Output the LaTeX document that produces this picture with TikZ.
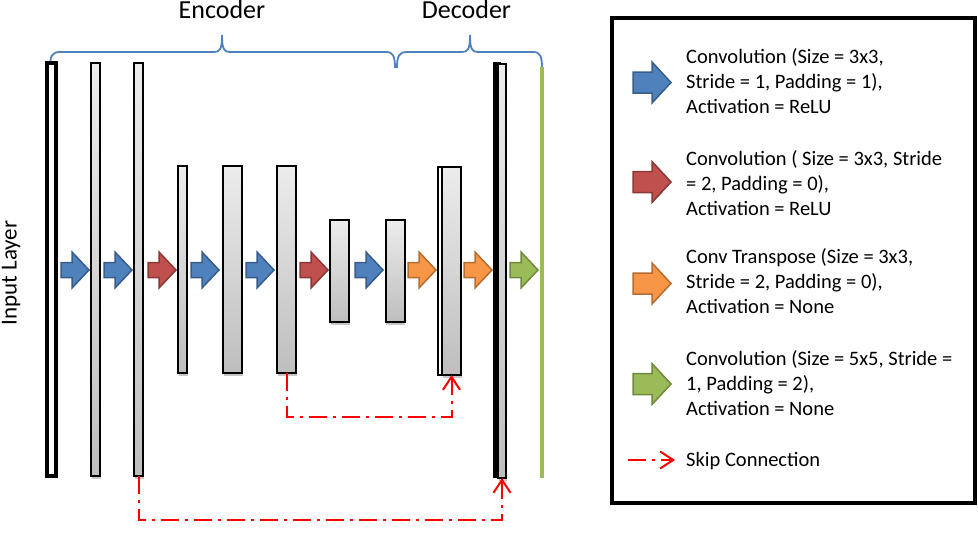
\documentclass[tikz,border=0pt]{standalone}
\usepackage{fontspec}
\setmainfont{Carlito}
\usetikzlibrary{arrows.meta,shadows}
\definecolor{bluefill}{HTML}{4F81BD}
\definecolor{bluedraw}{HTML}{385D8A}
\definecolor{redfill}{HTML}{C0504D}
\definecolor{reddraw}{HTML}{8C3836}
\definecolor{orafill}{HTML}{F79646}
\definecolor{oradraw}{HTML}{B66D31}
\definecolor{grefill}{HTML}{9BBB59}
\definecolor{gredraw}{HTML}{71893F}
\definecolor{bartop}{RGB}{236,236,236}
\definecolor{barbot}{RGB}{190,190,190}
\definecolor{skipred}{HTML}{FF0000}
\tikzset{
  pics/smallarr/.style={code={\filldraw (0,-7.5) -- (11,-7.5) -- (11,-18) -- (28,0) -- (11,18) -- (11,7.5) -- (0,7.5) -- cycle;}},
  pics/bigarr/.style={code={\filldraw (0,-10.5) -- (19,-10.5) -- (19,-20.5) -- (38,0) -- (19,20.5) -- (19,10.5) -- (0,10.5) -- cycle;}},
  convA/.style={fill=bluefill, draw=bluedraw, line width=1.5pt, line join=miter},
  convB/.style={fill=redfill, draw=reddraw, line width=1.5pt, line join=miter},
  convT/.style={fill=orafill, draw=oradraw, line width=1.5pt, line join=miter},
  convC/.style={fill=grefill, draw=gredraw, line width=1.5pt, line join=miter},
  bar/.style={draw=black, line width=2pt, top color=bartop, bottom color=barbot, inner sep=0pt, outer sep=0pt,
    drop shadow={opacity=0.22, shadow xshift=0.5pt, shadow yshift=-3pt, fill=black}},
  backbar/.style={draw=black, line width=2pt, fill=white, inner sep=0pt, outer sep=0pt},
  blackbar/.style={draw=black, line width=2pt, fill=black, inner sep=0pt, outer sep=0pt},
  inputbar/.style={draw=black, line width=4pt, fill=white, inner sep=0pt, outer sep=0pt},
  skipline/.style={draw=skipred, line width=2pt, dash pattern=on 18pt off 6pt on 3pt off 6pt,
    -{Straight Barb[length=13pt,width=17pt]}},
  brace/.style={draw=bluefill, line width=1.8pt},
  legtext/.style={anchor=base west, align=left, inner sep=0pt, font=\fontsize{20.5}{25}\selectfont},
  title/.style={anchor=base, inner sep=0pt, font=\fontsize{26}{30}\selectfont},
}
\begin{document}
\begin{tikzpicture}[x=1pt,y=-1pt]
\useasboundingbox (0,0) rectangle (978,538);
% titles
\node[title] (enc) at (222,19) {Encoder};
\node[title] (dec) at (466.5,19) {Decoder};
\node[anchor=base, inner sep=0pt, rotate=90, font=\fontsize{23}{27}\selectfont] (inl) at (16.5,273) {Input Layer};
% braces
\draw[brace] (50,68) .. controls (50,56) and (52,52) .. (60,52) -- (214,52)
  .. controls (220,52) and (222,49) .. (222,35) .. controls (222,49) and (224,52) .. (230,52)
  -- (386,52) .. controls (393,52) and (395,56) .. (395,68);
\draw[brace] (397,68) .. controls (397,56) and (399,52) .. (407,52) -- (462,52)
  .. controls (468,52) and (470,49) .. (470,35) .. controls (470,49) and (472,52) .. (478,52)
  -- (533,52) .. controls (540,52) and (542,56) .. (542,68);
% layers
\node[inputbar, minimum width=9pt, minimum height=413pt] (in) at (51.5,269.5) {};
\node[bar, minimum width=9pt, minimum height=413pt] (b2) at (95.5,269.5) {};
\node[bar, minimum width=9pt, minimum height=413pt] (b3) at (138.5,269.5) {};
\node[bar, minimum width=9pt, minimum height=207pt] (b4) at (182.5,269.5) {};
\node[bar, minimum width=19pt, minimum height=207pt] (b5) at (232.5,269.5) {};
\node[bar, minimum width=19pt, minimum height=207pt] (b6) at (286.5,269.5) {};
\node[bar, minimum width=19pt, minimum height=102pt] (b7) at (339.5,271) {};
\node[bar, minimum width=19pt, minimum height=102pt] (b8) at (395,271) {};
\node[backbar, minimum width=19pt, minimum height=208pt] (b9b) at (447.5,271) {};
\node[bar, minimum width=19pt, minimum height=208pt] (b9) at (451.5,271) {};
\node[blackbar, minimum width=6pt, minimum height=414pt] (b10b) at (497,270) {};
\node[bar, minimum width=8pt, minimum height=414pt] (b10) at (502,271) {};
\draw[grefill, line width=3.5pt] (542,67) -- (542,478);
% operation arrows
\pic[convA] at (61,270) {smallarr};
\pic[convA] at (104,270) {smallarr};
\pic[convB] at (148,270) {smallarr};
\pic[convA] at (191,270) {smallarr};
\pic[convA] at (246,270) {smallarr};
\pic[convB] at (300,270) {smallarr};
\pic[convA] at (355,270) {smallarr};
\pic[convT] at (408,270) {smallarr};
\pic[convT] at (464,270) {smallarr};
\pic[convC] at (510,270) {smallarr};
% skip connections
\draw[skipline] (b6.south) -- ++(0,44) -| (b9.south);
\draw[skipline] (b3.south) -- ++(0,44) -| (b10.south);
% legend
\draw[line width=4pt] (612,18) rectangle (975,503);
\pic[convA] at (633,82.5) {bigarr};
\pic[convB] at (633,182) {bigarr};
\pic[convT] at (633,283.5) {bigarr};
\pic[convC] at (633,384) {bigarr};
\node[legtext] (t1) at (686,113.5) {Convolution (Size = 3x3,\\Stride = 1, Padding = 1),\\Activation = ReLU};
\node[legtext] (t2) at (686,215.5) {Convolution ( Size = 3x3, Stride\\= 2, Padding = 0),\\Activation = ReLU};
\node[legtext] (t3) at (686,313.5) {Conv Transpose (Size = 3x3,\\Stride = 2, Padding = 0),\\Activation = None};
\node[legtext] (t4) at (686,415.5) {Convolution (Size = 5x5, Stride =\\1, Padding = 2),\\Activation = None};
\coordinate (s1) at (628,460);
\coordinate (s2) at (675,460);
\draw[skipline] (s1) -- (s2);
\node[legtext] (t5) at (686,466) {Skip Connection};
\end{tikzpicture}
\end{document}
